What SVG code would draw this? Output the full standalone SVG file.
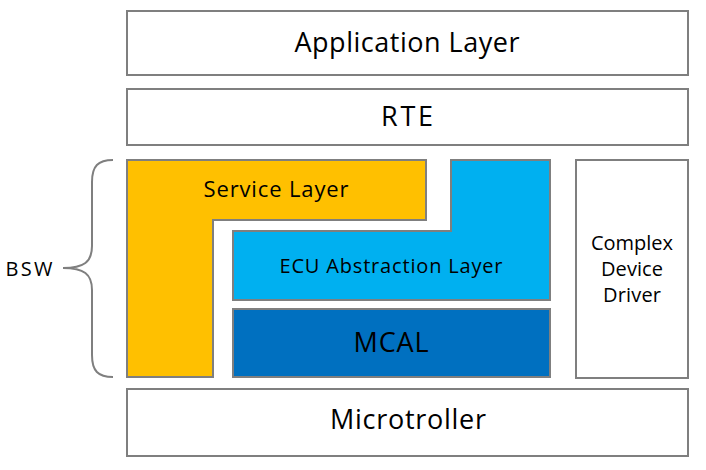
<svg xmlns="http://www.w3.org/2000/svg" width="706" height="470" viewBox="0 0 706 470">
<style>
.b{stroke:#7f7f7f;stroke-width:2;}
.t{font-family:"Open Sans","Noto Sans","DejaVu Sans",sans-serif;fill:#000;text-anchor:middle;dominant-baseline:central;font-weight:500;}
.l{font-size:27px;}
.m{font-size:22px;}
.s{font-size:20px;}
</style>
<rect width="706" height="470" fill="#fff"/>
<g id="app"><rect class="b" x="127" y="11" width="561" height="64" fill="#fff"/><text class="t l" x="407" y="41" textLength="225">Application Layer</text></g>
<g id="rte"><rect class="b" x="127" y="89" width="561" height="56" fill="#fff"/><text class="t l" x="407" y="115" textLength="52">RTE</text></g>
<g id="service"><path class="b" d="M127 160H426V220H213V377H127Z" fill="#ffc000"/><text class="t m" x="276" y="188" textLength="145">Service Layer</text></g>
<g id="ecu"><path class="b" d="M451 160H550V300H233V231H451Z" fill="#00b0f0"/><text class="t s" x="391" y="265" textLength="223">ECU Abstraction Layer</text></g>
<g id="mcal"><rect class="b" x="233" y="309" width="317" height="68" fill="#0070c0"/><text class="t l" x="391" y="341" textLength="75">MCAL</text></g>
<g id="cdd"><rect class="b" x="576" y="160" width="112" height="218" fill="#fff"/><text class="t s" x="632" y="242" textLength="82">Complex</text><text class="t s" x="632" y="268" textLength="62">Device</text><text class="t s" x="632" y="294" textLength="58">Driver</text></g>
<g id="micro"><rect class="b" x="127" y="389" width="561" height="67" fill="#fff"/><text class="t l" x="408" y="418" textLength="156">Microtroller</text></g>
<g id="bsw"><text class="t s" x="29" y="268" textLength="47">BSW</text></g>
<g id="connectors"><path d="M113 160C98 160 92 166 92 182V246C92 262 84 268 63 268C84 268 92 274 92 290V355C92 371 98 377 113 377" fill="none" stroke="#7f7f7f" stroke-width="2"/></g>
</svg>
